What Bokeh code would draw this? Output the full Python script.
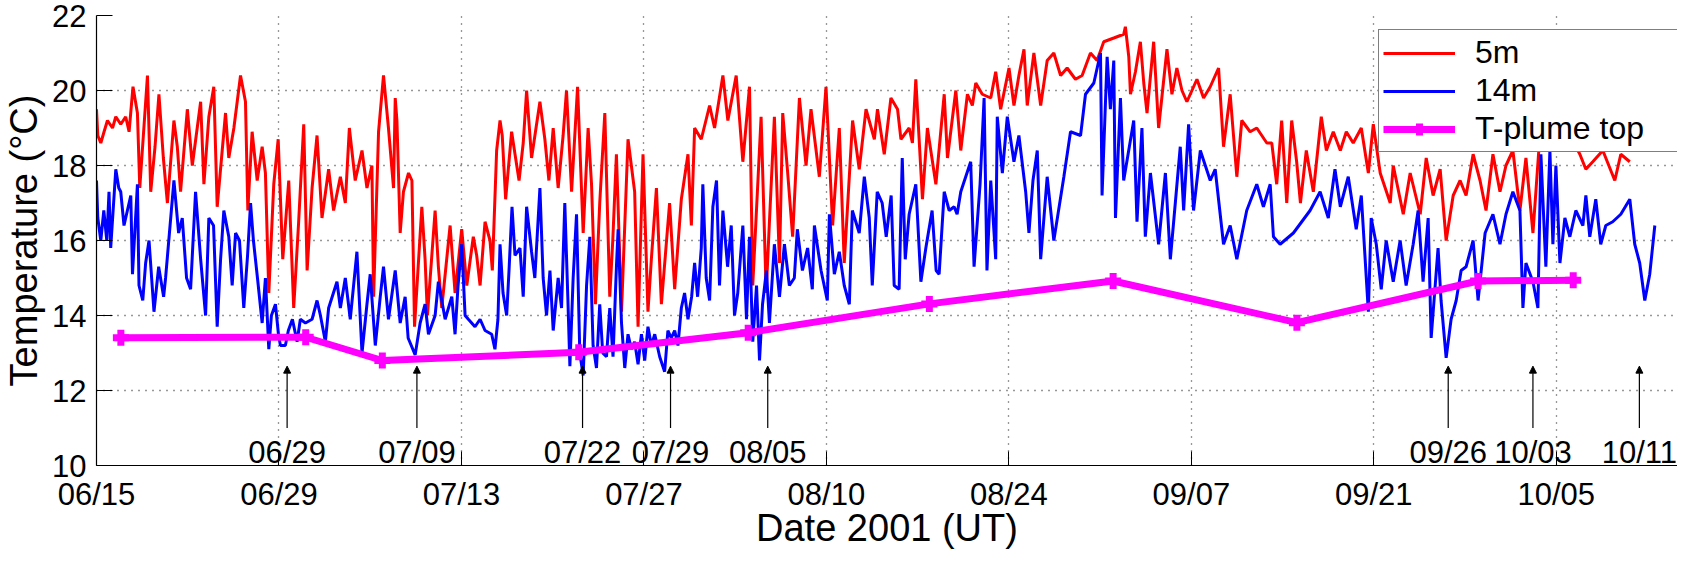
import pandas as pd
from bokeh.plotting import figure
from bokeh.models import (ColumnDataSource, FixedTicker, DatetimeTickFormatter, Legend,
                          LegendItem, Arrow, NormalHead, Range1d)
from bokeh.core.properties import value
from bokeh.embed import file_html
from bokeh.resources import INLINE

T0 = pd.Timestamp("2001-06-15")

# 5 m temperature: days since 2001-06-15 00:00 UT, degC
t5_days = [0.00, 0.10, 0.33, 0.58, 0.84, 1.23, 1.48, 1.86, 2.24, 2.50, 2.80, 3.14, 3.32, 3.91, 4.16, 4.49, 4.79, 5.13, 5.44, 5.94,
           6.20, 6.45, 6.97, 7.35, 7.99, 8.24, 8.62, 9.00, 9.26, 9.90, 10.15, 10.54, 11.05, 11.43, 11.61, 11.94, 12.33, 12.71, 12.96, 13.22,
           13.60, 13.94, 14.29, 14.75, 15.13, 15.51, 15.90, 16.16, 16.54, 16.92, 17.30, 17.81, 18.19, 18.71, 19.09, 19.40, 19.85, 20.37, 20.75, 21.13,
           21.26, 21.64, 22.02, 22.40, 22.79, 22.92, 23.05, 23.30, 23.55, 23.94, 24.20, 24.40, 24.96, 25.21, 25.39, 25.98, 26.23, 26.49, 27.13, 27.51,
           28.02, 28.41, 28.91, 29.17, 29.43, 29.81, 30.19, 30.37, 30.70, 30.96, 31.13, 31.39, 31.85, 32.11, 32.42, 32.74, 33.00, 33.38, 34.02, 34.40,
           34.71, 35.04, 35.42, 35.80, 36.06, 36.45, 36.91, 37.34, 37.72, 37.98, 38.28, 38.61, 39.00, 39.38, 39.61, 39.89, 40.28, 40.78, 41.29, 41.55,
           41.93, 42.31, 42.57, 42.96, 43.34, 43.97, 44.36, 44.87, 45.38, 45.64, 45.89, 46.40, 47.04, 47.42, 48.06, 48.44, 49.08, 49.59, 50.10, 50.35,
           50.99, 51.38, 51.63, 52.01, 52.40, 52.65, 53.03, 53.41, 53.93, 54.44, 54.82, 55.46, 55.97, 56.48, 56.99, 57.37, 58.01, 58.52, 59.04, 59.68,
           59.92, 60.44, 60.95, 61.46, 61.72, 62.35, 62.60, 62.86, 63.37, 63.75, 64.01, 64.40, 65.04, 65.29, 65.93, 66.31, 66.82, 67.20, 67.46, 67.96,
           68.61, 68.99, 69.37, 70.01, 70.39, 70.77, 71.16, 71.41, 71.92, 72.44, 72.94, 73.45, 73.97, 74.47, 75.11, 75.62, 76.26, 76.77, 77.28, 78.05,
           78.81, 78.94, 79.20, 79.33, 79.71, 80.09, 80.35, 80.60, 81.11, 81.49, 82.13, 82.51, 82.89, 83.28, 83.66, 84.43, 84.94, 85.45, 86.09, 86.47,
           86.98, 87.49, 87.87, 88.51, 89.02, 89.79, 90.17, 90.55, 90.93, 91.32, 91.70, 92.08, 92.37, 92.82, 93.36, 93.97, 94.36, 94.89, 95.43, 95.89,
           96.42, 97.04, 97.58, 97.96, 98.49, 99.26, 99.49, 100.26, 100.79, 101.56, 102.02, 102.55, 103.09, 103.55, 104.09, 104.62, 105.08, 105.62, 106.15, 106.61,
           107.14, 107.68, 108.14, 108.67, 109.21, 109.67, 110.21, 110.74, 111.35, 112.12, 113.04, 113.81, 114.27, 114.80, 115.57, 116.49, 116.95, 117.64]
t5_temp = [19.5, 18.8, 18.6, 18.9, 19.2, 19.0, 19.3, 19.1, 19.3, 18.9, 20.1, 19.4, 17.4, 20.4, 17.3, 18.5, 19.9, 18.2, 17.0, 19.2,
           18.5, 17.3, 19.5, 18.0, 19.7, 17.5, 19.3, 20.1, 16.9, 19.4, 18.2, 19.0, 20.4, 19.7, 16.8, 18.9, 17.6, 18.5, 17.8, 14.6,
           17.5, 18.7, 15.5, 17.6, 14.2, 16.5, 19.1, 15.2, 17.4, 18.8, 16.6, 17.9, 16.8, 17.7, 17.0, 19.0, 17.6, 18.4, 17.4, 18.0,
           14.5, 18.9, 20.4, 19.0, 17.4, 19.8, 19.2, 16.2, 17.3, 17.8, 17.6, 13.7, 16.9, 15.5, 14.0, 16.8, 15.3, 14.2, 16.4, 14.6,
           16.3, 14.8, 16.1, 15.6, 14.8, 16.5, 16.0, 15.2, 18.4, 19.2, 18.8, 17.1, 18.9, 18.3, 17.6, 18.6, 20.0, 18.2, 19.7, 18.7,
           17.6, 19.0, 17.4, 18.8, 20.0, 17.3, 20.1, 16.2, 19.0, 17.5, 14.3, 17.0, 19.4, 14.5, 16.0, 18.3, 14.1, 18.7, 17.3, 13.7,
           18.3, 14.1, 15.5, 17.4, 14.3, 17.0, 14.7, 17.1, 18.3, 16.4, 19.0, 18.7, 19.6, 19.0, 20.4, 19.2, 20.4, 18.1, 20.1, 14.8,
           19.3, 14.6, 16.5, 19.3, 15.4, 19.4, 17.8, 16.1, 19.8, 18.0, 19.5, 17.7, 20.1, 16.4, 19.0, 15.4, 19.2, 17.9, 19.5, 18.7,
           19.5, 18.3, 19.8, 19.5, 18.7, 19.0, 18.6, 20.3, 17.1, 19.0, 18.4, 17.5, 19.9, 18.2, 20.0, 18.4, 19.9, 19.6, 20.2, 19.9,
           19.8, 20.5, 19.5, 20.6, 19.6, 20.4, 21.1, 19.6, 21.0, 19.6, 20.8, 21.0, 20.4, 20.6, 20.3, 20.4, 21.0, 20.8, 21.3, 21.4,
           21.5, 21.7, 20.9, 19.9, 20.5, 21.3, 20.2, 19.4, 21.3, 19.0, 21.1, 19.9, 20.6, 20.0, 19.7, 20.3, 19.8, 20.1, 20.6, 18.5,
           19.9, 17.7, 19.2, 18.9, 19.0, 18.6, 18.6, 17.5, 19.2, 17.0, 19.2, 18.1, 17.0, 18.4, 17.3, 19.3, 18.4, 18.9, 18.4, 18.9,
           18.6, 19.0, 17.8, 19.1, 17.8, 17.0, 18.0, 16.7, 17.8, 16.7, 18.2, 17.2, 17.9, 16.0, 17.2, 17.6, 17.2, 18.3, 17.6, 16.8,
           18.3, 17.3, 18.0, 18.4, 16.8, 18.2, 16.2, 18.8, 19.0, 18.6, 18.8, 18.3, 17.9, 18.1, 18.4, 17.6, 18.3, 18.1]

# 14 m temperature
t14_days = [0.00, 0.10, 0.33, 0.56, 0.79, 0.96, 1.09, 1.48, 1.71, 1.86, 2.11, 2.63, 2.76, 3.14, 3.26, 3.55, 3.77, 4.03, 4.41, 4.77,
            5.15, 5.30, 5.94, 6.30, 6.58, 6.91, 7.22, 7.60, 7.99, 8.37, 8.62, 8.98, 9.26, 9.52, 9.77, 10.15, 10.41, 10.67, 10.97, 11.30,
            11.59, 11.82, 12.04, 12.35, 12.71, 12.96, 13.22, 13.42, 13.73, 13.96, 14.11, 14.49, 14.72, 15.03, 15.39, 15.64, 16.03, 16.54, 16.92, 17.18,
            17.56, 17.81, 18.45, 18.71, 19.09, 19.47, 19.98, 20.37, 20.75, 21.00, 21.39, 21.77, 22.02, 22.40, 22.92, 23.30, 23.68, 23.91, 24.45, 24.83,
            25.21, 25.47, 25.98, 26.23, 26.75, 27.26, 27.51, 27.74, 28.02, 28.28, 28.53, 29.04, 29.43, 29.81, 30.32, 30.57, 30.80, 30.96, 31.19, 31.47,
            31.65, 31.88, 32.11, 32.49, 32.74, 33.00, 33.38, 33.63, 34.02, 34.27, 34.53, 34.79, 35.04, 35.42, 35.68, 35.93, 36.16, 36.32, 36.57, 36.83,
            37.08, 37.34, 37.60, 37.85, 38.10, 38.36, 38.61, 38.84, 39.13, 39.38, 39.63, 39.89, 40.02, 40.28, 40.53, 40.78, 41.04, 41.29, 41.55, 41.81,
            42.06, 42.31, 42.57, 42.83, 43.21, 43.59, 43.84, 44.10, 44.36, 44.61, 44.87, 45.12, 45.38, 45.66, 45.89, 46.12, 46.40, 46.52, 46.78, 47.04,
            47.29, 47.57, 47.80, 48.06, 48.42, 48.70, 48.95, 49.20, 49.59, 49.87, 50.10, 50.35, 50.64, 50.87, 51.10, 51.40, 51.63, 52.01, 52.40, 52.78,
            53.16, 53.54, 53.77, 54.16, 54.56, 54.92, 55.08, 55.59, 56.07, 56.23, 56.61, 56.99, 57.37, 57.76, 57.99, 58.52, 58.91, 59.29, 59.52, 59.90,
            60.28, 60.59, 60.97, 61.20, 61.58, 61.82, 62.05, 62.35, 62.86, 63.25, 63.63, 64.11, 64.42, 64.65, 65.04, 65.42, 65.80, 66.03, 66.31, 66.69,
            67.07, 67.33, 67.79, 68.10, 68.32, 68.61, 68.99, 69.11, 69.50, 69.88, 70.39, 70.77, 71.29, 71.54, 71.85, 72.18, 72.44, 72.94, 73.45, 74.22,
            74.73, 75.50, 75.88, 76.52, 77.03, 77.15, 77.54, 77.79, 78.05, 78.18, 78.56, 78.81, 79.58, 79.83, 80.21, 80.47, 80.86, 81.49, 82.01, 82.39,
            83.15, 83.41, 83.79, 84.17, 84.69, 85.45, 85.83, 86.47, 86.98, 87.49, 88.25, 89.02, 89.53, 90.05, 90.30, 90.81, 91.83, 93.11, 93.88, 94.51,
            95.02, 95.43, 96.04, 96.65, 97.04, 97.58, 97.80, 98.19, 98.57, 98.95, 99.49, 100.02, 100.48, 101.02, 101.40, 101.78, 102.17, 102.40, 102.93, 103.16,
            103.55, 103.93, 104.32, 104.70, 105.08, 105.62, 106.00, 106.54, 107.14, 107.68, 108.14, 108.67, 109.21, 109.44, 109.67, 110.21, 110.59, 110.82, 111.20, 111.51,
            111.74, 111.97, 112.28, 112.66, 113.04, 113.50, 114.04, 114.27, 114.57, 115.03, 115.41, 115.80, 116.33, 116.95, 117.64, 118.02, 118.40, 118.79, 119.17, 119.56]
t14_temp = [17.6, 16.6, 16.0, 16.8, 16.0, 17.3, 15.8, 17.9, 17.4, 17.3, 16.4, 17.2, 15.1, 17.5, 14.8, 14.4, 15.4, 16.0, 14.1, 15.3,
            14.5, 15.0, 17.6, 16.2, 16.6, 15.0, 14.7, 17.3, 15.5, 14.0, 16.6, 16.4, 13.7, 15.5, 16.8, 16.1, 14.8, 16.2, 16.0, 14.2,
            15.6, 17.0, 16.0, 15.0, 13.8, 15.0, 13.1, 14.0, 14.3, 13.5, 13.2, 13.2, 13.6, 13.9, 13.3, 13.9, 13.8, 13.9, 14.4, 14.0,
            13.3, 14.2, 14.9, 14.2, 15.0, 13.9, 15.7, 13.0, 14.3, 15.1, 13.2, 14.5, 15.3, 13.9, 15.2, 13.8, 14.5, 13.4, 12.95, 13.8,
            14.3, 13.5, 14.0, 14.9, 13.9, 14.5, 13.5, 14.8, 15.9, 14.0, 13.9, 13.7, 13.9, 13.6, 13.5, 13.1, 13.9, 15.9, 14.6, 14.0,
            15.2, 16.9, 15.6, 15.8, 14.5, 16.9, 15.7, 15.0, 17.4, 15.0, 14.0, 15.2, 13.6, 15.0, 14.2, 17.0, 14.5, 12.65, 15.0, 16.7,
            13.0, 12.4, 14.8, 16.1, 13.2, 12.6, 14.3, 13.0, 12.9, 14.2, 12.9, 15.3, 16.3, 13.8, 12.6, 13.5, 13.1, 13.3, 12.7, 13.5,
            12.8, 13.7, 13.2, 13.5, 12.9, 12.5, 13.6, 13.4, 13.6, 13.2, 14.2, 14.6, 13.9, 14.5, 15.4, 14.5, 15.8, 17.5, 15.0, 14.4,
            16.9, 17.6, 14.8, 16.8, 15.3, 16.4, 14.0, 14.6, 16.4, 13.9, 16.1, 13.3, 14.8, 12.8, 14.3, 15.2, 13.8, 15.9, 14.5, 15.9,
            14.8, 15.0, 16.3, 15.2, 15.8, 14.7, 16.4, 15.2, 14.4, 16.7, 15.1, 15.7, 14.8, 14.3, 16.8, 16.2, 17.7, 16.6, 14.8, 17.3,
            17.0, 16.1, 17.2, 14.8, 14.7, 18.2, 15.5, 16.7, 17.5, 14.9, 15.8, 16.8, 15.2, 15.1, 17.3, 16.8, 16.9, 16.7, 17.3, 17.7,
            18.1, 15.3, 17.5, 19.8, 15.2, 17.6, 15.5, 19.3, 17.8, 19.3, 18.1, 18.8, 17.3, 16.2, 17.6, 18.4, 15.5, 17.7, 16.0, 17.7,
            18.9, 18.8, 19.9, 20.2, 21.0, 17.2, 20.9, 19.5, 20.8, 16.6, 19.8, 17.6, 19.2, 16.5, 19.0, 16.1, 17.8, 15.9, 17.8, 15.5,
            18.5, 16.8, 19.1, 16.8, 18.4, 17.6, 17.9, 15.9, 16.4, 15.5, 16.8, 17.5, 16.9, 17.5, 16.1, 15.9, 16.2, 16.8, 17.3, 16.6,
            17.9, 16.9, 17.7, 16.3, 17.2, 14.1, 16.6, 15.9, 14.7, 16.0, 14.9, 16.0, 14.8, 15.9, 16.8, 14.9, 16.6, 13.4, 15.8, 14.4,
            12.87, 13.9, 14.4, 15.2, 15.3, 16.0, 14.4, 16.2, 16.7, 15.9, 16.7, 17.3, 16.8, 14.2, 15.4, 14.9, 14.2, 18.3, 15.3, 18.4,
            15.9, 18.0, 15.4, 16.6, 16.1, 16.8, 16.4, 17.2, 16.1, 17.1, 15.9, 16.4, 16.5, 16.7, 17.1, 15.9, 15.4, 14.4, 15.1, 16.4]

# T-plume top
plume_days = [1.87, 16.05, 21.93, 37.0, 50.0, 63.9, 78.0, 92.1, 106.0, 113.3]
plume_temp = [13.41, 13.42, 12.80, 13.02, 13.54, 14.31, 14.92, 13.81, 14.92, 14.94]

# Marked events
event_times = ["2001-06-29 15:00", "2001-07-09 14:00", "2001-07-22 07:00", "2001-07-29 01:00",
               "2001-08-05 12:00", "2001-09-26 17:00", "2001-10-03 05:00", "2001-10-11 09:00"]
event_labels = ["06/29", "07/09", "07/22", "07/29", "08/05", "09/26", "10/03", "10/11"]

x_tick_dates = ["2001-06-15", "2001-06-29", "2001-07-13", "2001-07-27", "2001-08-10",
                "2001-08-24", "2001-09-07", "2001-09-21", "2001-10-05"]
y_ticks = [10, 12, 14, 16, 18, 20, 22]

FONT = "Liberation Sans"


def to_time(days):
    return T0 + pd.to_timedelta(days, unit="D")


src5 = ColumnDataSource(dict(t=to_time(t5_days), temp=t5_temp))
src14 = ColumnDataSource(dict(t=to_time(t14_days), temp=t14_temp))
srcp = ColumnDataSource(dict(t=to_time(plume_days), temp=plume_temp))
ev_t = pd.to_datetime(event_times)
srce = ColumnDataSource(dict(t=ev_t, y0=[11.0] * len(ev_t), y1=[12.65] * len(ev_t),
                             ly=[10.34] * len(ev_t), label=event_labels))

p = figure(width=1677, height=552, x_axis_type="datetime", output_backend="svg",
           toolbar_location=None,
           x_range=Range1d(T0, T0 + pd.Timedelta(days=121.3)),
           y_range=Range1d(10, 22),
           min_border_left=93, min_border_right=0, min_border_top=15, min_border_bottom=87)
p.outline_line_color = None
p.background_fill_color = "white"

r5 = p.line("t", "temp", source=src5, line_color="#ff0000", line_width=3)
r14 = p.line("t", "temp", source=src14, line_color="#0000ff", line_width=3)
rpl = p.line("t", "temp", source=srcp, line_color="#ff00ff", line_width=7)
rpm = p.scatter("t", "temp", source=srcp, marker="cross", size=16, line_color="#ff00ff",
                line_width=7)

p.add_layout(Arrow(end=NormalHead(size=7, fill_color="black", line_color="black", line_width=1),
                   x_start="t", y_start="y0", x_end="t", y_end="y1", source=srce,
                   line_color="black", line_width=1.2))
p.text("t", "ly", text="label", source=srce, text_font=value(FONT), text_font_size="31px",
       text_align="center", text_baseline="alphabetic", text_color="black")

# axes
p.xaxis.ticker = FixedTicker(ticks=[pd.Timestamp(d).value / 1e6 for d in x_tick_dates])
p.xaxis.formatter = DatetimeTickFormatter(days="%m/%d", months="%m/%d", years="%m/%d",
                                          hours="%m/%d", minutes="%m/%d")
p.yaxis.ticker = FixedTicker(ticks=y_ticks)
for ax in (p.xaxis, p.yaxis):
    ax.axis_line_color = "black"
    ax.axis_line_width = 1.2
    ax.major_tick_line_color = "black"
    ax.major_tick_out = 0
    ax.minor_tick_line_color = None
    ax.major_label_text_font = FONT
    ax.major_label_text_font_size = "31px"
    ax.major_label_text_color = "black"
    ax.axis_label_text_font = FONT
    ax.axis_label_text_font_size = "38px"
    ax.axis_label_text_font_style = "normal"
    ax.axis_label_text_color = "black"
p.xaxis.major_tick_in = 14
p.yaxis.major_tick_in = 16
p.xaxis.axis_label = "Date 2001 (UT)"
p.yaxis.axis_label = "Temperature (°C)"
p.xaxis.major_label_standoff = 11
p.xaxis.axis_label_standoff = -8
p.yaxis.major_label_standoff = 10
p.yaxis.axis_label_standoff = 4

for g in (p.xgrid, p.ygrid):
    g.grid_line_color = "#303030"
    g.grid_line_dash = "1 6"
    g.grid_line_width = 1.3
p.xgrid.ticker = p.xaxis.ticker
p.ygrid.ticker = p.yaxis.ticker

legend = Legend(items=[LegendItem(label="5m", renderers=[r5]),
                       LegendItem(label="14m", renderers=[r14]),
                       LegendItem(label="T-plume top", renderers=[rpl, rpm])],
                location=(1282, 313), orientation="vertical",
                label_text_font=FONT, label_text_font_size="32px", label_text_color="black",
                glyph_width=72, glyph_height=30, label_standoff=20, label_width=211,
                label_height=36, spacing=1, padding=4, margin=0,
                border_line_color="black", border_line_width=1.2,
                background_fill_color="white", background_fill_alpha=1.0)
p.add_layout(legend, "center")

open("out.html", "w").write(file_html(p, INLINE))
